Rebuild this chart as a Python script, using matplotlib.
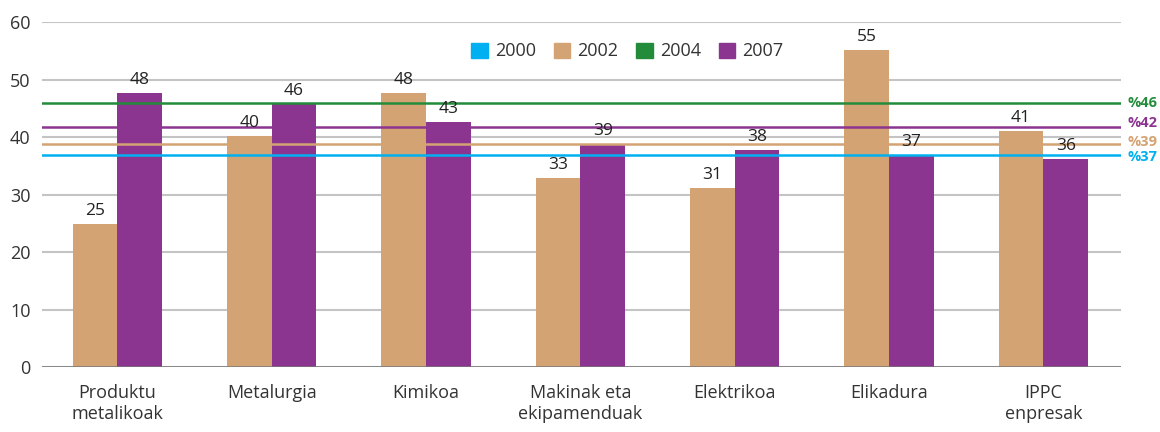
import numpy as np
import matplotlib.pyplot as plt
from matplotlib.patches import Patch

# sectors and values
sectors = ['Produktu\nmetalikoak', 'Metalurgia', 'Kimikoa', 'Makinak eta\nekipamenduak',
           'Elektrikoa', 'Elikadura', 'IPPC\nenpresak']
v2002 = [24.9, 40.2, 47.7, 32.9, 31.1, 55.1, 41.0]
v2007 = [47.7, 45.8, 42.6, 38.8, 37.7, 36.9, 36.2]

# averages per year (horizontal lines)
avg_years = ['2000', '2002', '2004', '2007']
avg_vals = [36.9, 38.8, 45.9, 41.7]
avg_labels = ['%37', '%39', '%46', '%42']
label_nudge = [-0.4, 0.3, 0.0, 0.75]

colors = {'2000': '#00b0f0', '2002': '#d4a373', '2004': '#238c3a', '2007': '#8b3590'}

plt.rcParams['font.family'] = ['Open Sans', 'DejaVu Sans']

fig = plt.figure(figsize=(11.6, 4.32), dpi=100)
ax = fig.add_axes([0.036, 0.150, 0.930, 0.799])

x = np.arange(len(sectors))
w = 0.29
b1 = ax.bar(x - w / 2, v2002, w, color=colors['2002'], zorder=3)
b2 = ax.bar(x + w / 2, v2007, w, color=colors['2007'], zorder=3)

for bars, vals in [(b1, v2002), (b2, v2007)]:
    for b, v in zip(bars, vals):
        ax.text(b.get_x() + b.get_width() / 2, v + 0.9, f'{v:.0f}', ha='center', va='bottom',
                fontsize=12.5, color='#222222', zorder=5)

for yr, v, lab, dn in zip(avg_years, avg_vals, avg_labels, label_nudge):
    ax.axhline(v, color=colors[yr], lw=1.8, zorder=4)
    ax.text(1.006, v + dn, lab, transform=ax.get_yaxis_transform(), color=colors[yr],
            fontsize=10.5, fontweight='bold', va='center', ha='left')

ax.set_xlim(-0.49, 6.5)
ax.set_ylim(0, 60)
ax.set_yticks(range(0, 61, 10))
ax.yaxis.grid(True, color='#c4c4c4', lw=1.5, zorder=0)
ax.axhline(0, color='#777777', lw=1.8, zorder=4)
ax.set_xticks(x)
ax.set_xticklabels(sectors, fontsize=13, color='#222222', linespacing=1.2)
ax.tick_params(axis='both', length=0, labelsize=13, colors='#333333')
ax.tick_params(axis='y', pad=8)
ax.tick_params(axis='x', pad=12)
for s in ax.spines.values():
    s.set_visible(False)

handles = [Patch(color=colors[y]) for y in avg_years]
ax.legend(handles, avg_years, loc='center', bbox_to_anchor=(0.543, 0.915), ncol=4,
          frameon=False, fontsize=13, handlelength=0.9, handleheight=0.9,
          handletextpad=0.4, columnspacing=1.0, labelcolor='#333333')

fig.savefig('out.png', dpi=100)
